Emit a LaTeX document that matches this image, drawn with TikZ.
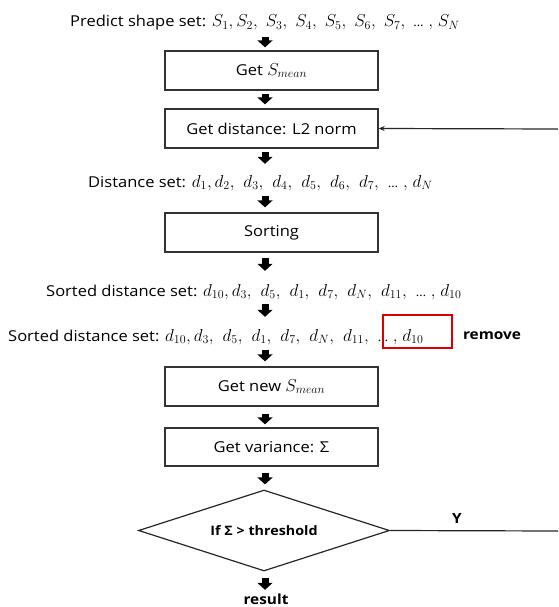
\documentclass[tikz,border=0pt]{standalone}
\usepackage{fontspec}
\setmainfont{Open Sans}[FakeStretch=1.1]
\usetikzlibrary{arrows.meta,shapes.geometric,calc}
\newcommand\mth[1]{{\fontsize{18}{20}\selectfont$#1$}}
\newcommand\dts{\mbox{\fontsize{12}{13}\selectfont …}}
\newcommand\gp{\ \hspace{1pt}}
\newcommand\tl{\;{,}\;}
\begin{document}
\begin{tikzpicture}[x=1pt,y=-1pt,
  base/.style={font=\fontsize{15}{17}\selectfont},
  txt/.style={base,inner sep=0pt,text height=10pt,text depth=4pt},
  box/.style={base,draw=black!80,line width=1.3pt,minimum width=213pt,minimum height=39pt,inner sep=0pt},
  blk/.style={line width=7pt,-{Triangle[width=15pt,length=7pt]}},
  thin/.style={draw=black!85,line width=1.2pt},
  lbl/.style={font=\bfseries\fontsize{14}{16}\selectfont,inner sep=0pt},
  ]
\useasboundingbox (0,0) rectangle (558,607);
\coordinate (axis) at (265,0);
\node[txt,anchor=base west] (t1) at (70,27) {Predict shape set: \mth{S_1,S_2,\ S_3,\ S_4,\ S_5,\ S_6,\ S_7,\ \dts\tl S_N}};
\node[box] (b1) at (271.5,70.5) {Get \mth{S_{mean}}};
\node[box] (b2) at (271.5,128.5) {Get distance: L2 norm};
\node[txt,anchor=base west] (t2) at (88,187) {Distance set: \mth{d_1,d_2,\gp d_3,\gp d_4,\gp d_5,\gp d_6,\gp d_7,\gp \dts\tl d_N}};
\node[box] (b3) at (271.5,232.5) {Sorting};
\node[txt,anchor=base west] (t3) at (46,296) {Sorted distance set: \mth{d_{10},d_3,\gp d_5,\gp d_1,\gp d_7,\gp d_N,\gp d_{11},\gp \dts\tl d_{10}}};
\node[txt,anchor=base west] (t4) at (8,341) {Sorted distance set: \mth{d_{10},d_3,\gp d_5,\gp d_1,\gp d_7,\gp d_N,\gp d_{11},\gp \dts\tl d_{10}}};
\node[draw=red!85!black,line width=1.2pt,minimum width=69pt,minimum height=33pt,inner sep=0pt] (rb) at (417.5,331.5) {};
\node[lbl] (rm) at (492,336) {remove};
\node[box] (b4) at (271.5,386.5) {Get new \mth{S_{mean}}};
\node[box,minimum height=38pt] (b5) at (271.5,447) {Get variance: Σ};
\node[diamond,aspect=3,draw=black!85,line width=1.2pt,minimum width=251pt,minimum height=81pt,inner sep=0pt,font=\bfseries\fontsize{13}{15}\selectfont] (d) at (264,530.5) {If Σ > threshold};
\node[lbl,anchor=base,text height=10pt] (res) at (266,604) {result};
\node[lbl] (y) at (457,518) {Y};
\coordinate (e1) at (558,531);
\coordinate (e2) at (558,129);
% block arrows
\draw[blk,shorten <=6pt,shorten >=3pt] (t1.south -| axis) -- (b1.north -| axis);
\draw[blk,shorten <=3pt,shorten >=4pt] (b1.south -| axis) -- (b2.north -| axis);
\draw[blk,shorten <=3pt,shorten >=13pt] (b2.south -| axis) -- (t2.north -| axis);
\draw[blk,shorten <=5pt,shorten >=5pt] (t2.south -| axis) -- (b3.north -| axis);
\draw[blk,shorten <=5pt,shorten >=15pt] (b3.south -| axis) -- (t3.north -| axis);
\draw[blk,shorten <=4pt,shorten >=14pt] (t3.south -| axis) -- (t4.north -| axis);
\draw[blk,shorten <=5pt,shorten >=5pt] (t4.south -| axis) -- (b4.north -| axis);
\draw[blk,shorten <=7pt,shorten >=3pt] (b4.south -| axis) -- (b5.north -| axis);
\draw[blk,shorten <=6pt,shorten >=5pt] (b5.south -| axis) -- (d.north -| axis);
\draw[blk,shorten <=6pt,shorten >=4pt] (d.south -| axis) -- (res.north -| axis);
% loop back
\draw[thin] (d.east) -- (e1);
\draw[thin,-{Stealth[length=6pt,width=5pt]}] (e2) -- (b2.east);
\end{tikzpicture}
\end{document}
